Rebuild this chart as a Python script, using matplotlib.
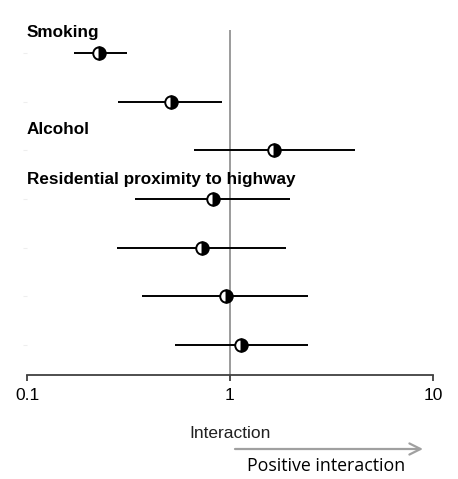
import matplotlib.pyplot as plt
from matplotlib.ticker import FixedLocator, FixedFormatter, NullLocator
from matplotlib.transforms import blended_transform_factory

# ---------- Interaction estimates (log scale) ----------
estimate = [0.226, 0.51, 1.65, 0.82, 0.73, 0.955, 1.13]
ci_low = [0.17, 0.28, 0.665, 0.34, 0.277, 0.37, 0.535]
ci_high = [0.31, 0.91, 4.13, 1.98, 1.89, 2.42, 2.42]

group_names = ["Smoking", "Alcohol", "Residential proximity to highway"]
group_rows = [-0.41, 1.58, 2.61]

tick_values = [0.1, 1, 10]
tick_labels = ["0.1", "1", "10"]

plt.rcParams['font.family'] = ['Liberation Sans', 'DejaVu Sans']

fig = plt.figure(figsize=(4.58, 4.79), dpi=100)
ax = fig.add_axes([27 / 458, 1 - 375 / 479, 406 / 458, 345 / 479])

rows = list(range(len(estimate)))

# reference line at no interaction
ax.axvline(1, color="#808080", lw=1.1, zorder=1)

ax.hlines(rows, ci_low, ci_high, color="black", lw=1.4, zorder=2)
ax.plot(estimate, rows, linestyle="none", marker="o", markersize=9,
        fillstyle="right", markerfacecolor="black", markerfacecoloralt="white",
        markeredgecolor="black", markeredgewidth=1.4, zorder=3)

ax.set_xscale("log")
ax.set_xlim(0.1, 10)
ax.set_ylim(6.62, -0.47)

ax.xaxis.set_major_locator(FixedLocator(tick_values))
ax.xaxis.set_major_formatter(FixedFormatter(tick_labels))
ax.xaxis.set_minor_locator(NullLocator())
ax.tick_params(axis="x", direction="out", length=4, width=1.3,
               color="#404040", labelsize=12.5, pad=5)

ax.set_yticks(rows)
ax.set_yticklabels([])
ax.tick_params(axis="y", length=3, color="#eeeeee")

for side in ["top", "right", "left"]:
    ax.spines[side].set_visible(False)
ax.spines["bottom"].set_color("#404040")
ax.spines["bottom"].set_linewidth(1.3)

trans = blended_transform_factory(ax.transAxes, ax.transData)
for name, r in zip(group_names, group_rows):
    ax.text(0.0, r, name, transform=trans, fontsize=12.3, fontweight="bold",
            ha="left", va="center")

# ---------- direction annotation ----------
fig.text(230 / 458, 1 - 434 / 479, "Interaction", fontsize=12.5,
         ha="center", va="center", color="#202020")
ax.annotate("", xy=(423 / 458, 1 - 449 / 479), xytext=(235 / 458, 1 - 449 / 479),
            xycoords="figure fraction", textcoords="figure fraction",
            arrowprops=dict(arrowstyle="->", color="#a0a0a0", lw=1.6,
                            mutation_scale=20, shrinkA=0, shrinkB=0))
fig.text(326 / 458, 1 - 466 / 479, "Positive interaction", fontsize=12.8,
         family=["Open Sans", "DejaVu Sans"], ha="center", va="center")

fig.savefig("out.png", dpi=100)
